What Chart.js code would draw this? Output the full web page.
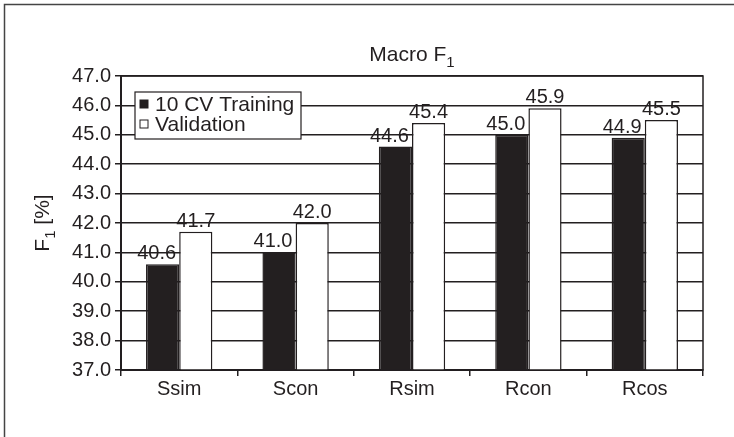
<!DOCTYPE html>
<html>
<head>
<meta charset="utf-8">
<script src="https://cdn.jsdelivr.net/npm/chart.js@4/dist/chart.umd.min.js"></script>
<style>
html,body{margin:0;padding:0;background:#fff;}
#wrap{width:734px;height:437px;position:relative;}
</style>
</head>
<body>
<div id="wrap"><canvas id="c" width="734" height="437"></canvas></div>
<script>
const categories = ['Ssim', 'Scon', 'Rsim', 'Rcon', 'Rcos'];
const trainingValues = [40.6, 41.0, 44.6, 45.0, 44.9];
const validationValues = [41.7, 42.0, 45.4, 45.9, 45.5];
const seriesNames = ['10 CV Training', 'Validation'];
const yTickMin = 37, yTickMax = 47, yTickStep = 1;
const titleMain = 'Macro F', titleSub = '1';
const yTitleMain = 'F', yTitleSub = '1', yTitleRest = ' [%]';

const FONT = '"Liberation Sans", Arial, Helvetica, sans-serif';
const INK = '#231f20';
const LABEL_SHIFT = [-6, 0];

const decor = {
  id: 'decor',
  beforeDraw(chart) {
    const ctx = chart.ctx;
    ctx.save();
    ctx.fillStyle = '#fff';
    ctx.fillRect(0, 0, chart.width, chart.height);
    ctx.strokeStyle = '#444';
    ctx.lineWidth = 1.5;
    ctx.beginPath();
    ctx.moveTo(4.5, 437); ctx.lineTo(4.5, 4.5); ctx.lineTo(734, 4.5);
    ctx.stroke();
    ctx.restore();
  },
  afterDatasetsDraw(chart) {
    const ctx = chart.ctx;
    const ca = chart.chartArea;
    ctx.save();
    ctx.strokeStyle = INK;
    ctx.lineWidth = 1.5;
    ctx.strokeRect(ca.left, ca.top, ca.right - ca.left, ca.bottom - ca.top);

    // value labels
    ctx.fillStyle = INK;
    ctx.font = '20px ' + FONT;
    ctx.textAlign = 'center';
    ctx.textBaseline = 'alphabetic';
    chart.data.datasets.forEach((ds, di) => {
      const meta = chart.getDatasetMeta(di);
      meta.data.forEach((bar, i) => {
        ctx.fillText(ds.data[i].toFixed(1), bar.x + LABEL_SHIFT[di], bar.y - 5);
      });
    });

    // legend
    const lx = 135, ly = 92, lw = 166, lh = 47;
    ctx.fillStyle = '#fff';
    ctx.fillRect(lx, ly, lw, lh);
    ctx.strokeStyle = INK;
    ctx.lineWidth = 1.2;
    ctx.strokeRect(lx, ly, lw, lh);
    ctx.font = '21px ' + FONT;
    ctx.textAlign = 'left';
    ctx.textBaseline = 'middle';
    chart.data.datasets.forEach((ds, di) => {
      const cy = ly + 12 + di * 20;
      ctx.fillStyle = ds.backgroundColor;
      ctx.fillRect(lx + 5, cy - 4, 8, 8);
      ctx.strokeStyle = INK;
      ctx.lineWidth = 1;
      ctx.strokeRect(lx + 5, cy - 4, 8, 8);
      ctx.fillStyle = INK;
      ctx.fillText(ds.label, lx + 20, cy + 1);
    });

    // chart title with subscript
    ctx.fillStyle = INK;
    ctx.textBaseline = 'alphabetic';
    ctx.font = '21px ' + FONT;
    const wMain = ctx.measureText(titleMain).width;
    ctx.font = '15px ' + FONT;
    const wSub = ctx.measureText(titleSub).width;
    const cx = (ca.left + ca.right) / 2;
    let tx = cx - (wMain + wSub) / 2;
    ctx.font = '21px ' + FONT;
    ctx.textAlign = 'left';
    ctx.fillText(titleMain, tx, 61);
    ctx.font = '15px ' + FONT;
    ctx.fillText(titleSub, tx + wMain, 67);

    // y-axis title rotated with subscript
    ctx.translate(49, 223);
    ctx.rotate(-Math.PI / 2);
    ctx.font = '21px ' + FONT;
    const a = ctx.measureText(yTitleMain).width;
    const c = ctx.measureText(yTitleRest).width;
    ctx.font = '15px ' + FONT;
    const b = ctx.measureText(yTitleSub).width;
    let yx = -(a + b + c) / 2;
    ctx.font = '21px ' + FONT;
    ctx.fillText(yTitleMain, yx, 0);
    ctx.font = '15px ' + FONT;
    ctx.fillText(yTitleSub, yx + a, 6);
    ctx.font = '21px ' + FONT;
    ctx.fillText(yTitleRest, yx + a + b, 0);
    ctx.restore();
  }
};

new Chart(document.getElementById('c'), {
  type: 'bar',
  data: {
    labels: categories,
    datasets: [
      { label: seriesNames[0], data: trainingValues, backgroundColor: INK, borderColor: INK, borderWidth: 1.5, barPercentage: 1, categoryPercentage: 0.57 },
      { label: seriesNames[1], data: validationValues, backgroundColor: '#ffffff', borderColor: INK, borderWidth: 1.5, barPercentage: 1, categoryPercentage: 0.57 }
    ]
  },
  options: {
    responsive: false,
    animation: false,
    devicePixelRatio: 1,
    layout: { padding: { top: 76, right: 31, left: 0, bottom: 0 } },
    plugins: {
      legend: { display: false },
      title: { display: false },
      tooltip: { enabled: false }
    },
    scales: {
      x: {
        afterFit(s) { s.height = 67; },
        grid: { drawOnChartArea: false, drawTicks: true, tickLength: 6, color: INK, lineWidth: 1.5, offset: true },
        border: { color: INK, width: 2 },
        ticks: { color: INK, font: { family: FONT, size: 20 }, padding: 1 }
      },
      y: {
        min: yTickMin, max: yTickMax,
        afterFit(s) { s.width = 121; },
        grid: { color: INK, lineWidth: 1.5, tickLength: 6 },
        border: { color: INK, width: 2 },
        ticks: { stepSize: yTickStep, color: INK, font: { family: FONT, size: 20 }, padding: 4,
          callback: v => Number(v).toFixed(1) }
      }
    }
  },
  plugins: [decor]
});
</script>
</body>
</html>
